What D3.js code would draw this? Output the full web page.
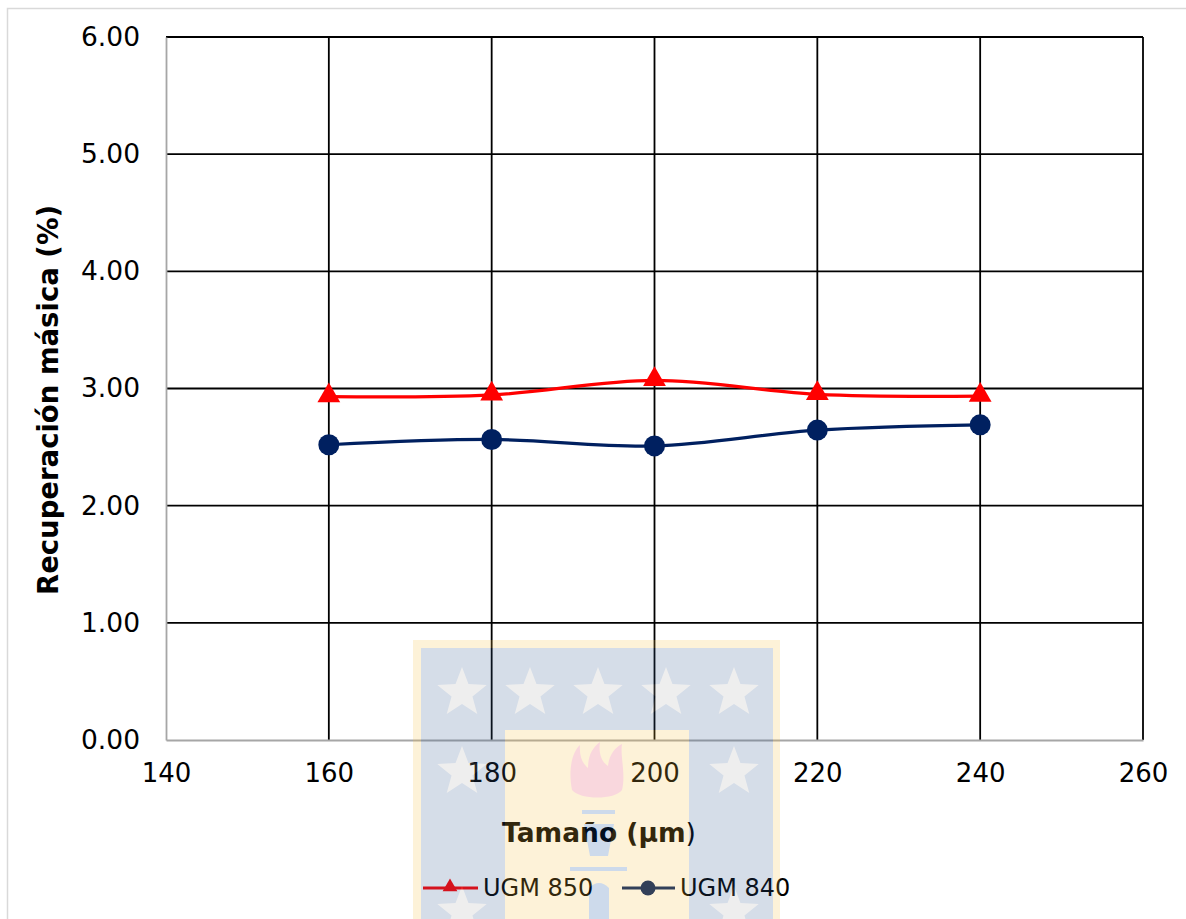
<!DOCTYPE html>
<html>
<head>
<meta charset="utf-8">
<script src="https://cdn.jsdelivr.net/npm/d3@7"></script>
<style>
  html, body { margin: 0; padding: 0; background: #fff; }
  svg { display: block; }
</style>
</head>
<body>
<svg id="chart" width="1186" height="919"></svg>
<script>
// ---- data ----
const sizes = [160, 180, 200, 220, 240];
const ugm850 = [2.93, 2.945, 3.07, 2.95, 2.935];
const ugm840 = [2.52, 2.565, 2.51, 2.645, 2.69];
const seriesNames = ["UGM 850", "UGM 840"];
const xTicks = [140, 160, 180, 200, 220, 240, 260];
const yTicks = [0, 1, 2, 3, 4, 5, 6];

const svg = d3.select("#chart");
const W = 1186, H = 919;
const m = { left: 166, right: 1143, top: 37, bottom: 740 };

const x = d3.scaleLinear().domain([140, 260]).range([m.left, m.right]);
const y = d3.scaleLinear().domain([0, 6]).range([m.bottom, m.top]);

// outer border
svg.append("rect").attr("x", 7.5).attr("y", 8.5).attr("width", W).attr("height", H)
  .attr("fill", "#fff").attr("stroke", "#d9d9d9").attr("stroke-width", 1.5);

const font = "'DejaVu Sans', Verdana, sans-serif";

// gridlines
const grid = svg.append("g");
grid.selectAll("line.h").data(yTicks.filter(d => d > 0)).join("line")
  .attr("x1", m.left).attr("x2", m.right)
  .attr("y1", d => y(d)).attr("y2", d => y(d))
  .attr("stroke", "#000").attr("stroke-width", 1.8);
grid.selectAll("line.v").data(xTicks.filter(d => d > 140)).join("line")
  .attr("y1", m.top).attr("y2", m.bottom)
  .attr("x1", d => x(d)).attr("x2", d => x(d))
  .attr("stroke", "#000").attr("stroke-width", 1.8);

// axes
const yAxis = d3.axisLeft(y).tickValues(yTicks).tickFormat(d3.format(".2f")).tickSize(0).tickPadding(26);
const xAxis = d3.axisBottom(x).tickValues(xTicks).tickFormat(d3.format("d")).tickSize(0).tickPadding(24);

const gy = svg.append("g").attr("transform", `translate(${m.left},0)`).call(yAxis);
gy.select(".domain").attr("stroke", "#a6a6a6").attr("stroke-width", 1.8);
gy.selectAll("text").attr("font-family", font).attr("font-size", 26.5).attr("fill", "#000");

const gx = svg.append("g").attr("transform", `translate(0,${m.bottom})`).call(xAxis);
gx.select(".domain").attr("stroke", "#a6a6a6").attr("stroke-width", 1.8);
gx.selectAll("text").attr("font-family", font).attr("font-size", 26).attr("fill", "#000");

// axis titles
svg.append("text")
  .attr("transform", "translate(58,400) rotate(-90)")
  .attr("text-anchor", "middle")
  .attr("font-family", font).attr("font-size", 27.5).attr("font-weight", "bold")
  .text("Recuperación másica (%)");

const xt = svg.append("text")
  .attr("x", 599).attr("y", 842)
  .attr("text-anchor", "middle")
  .attr("font-family", font).attr("font-size", 26.5).attr("font-weight", "bold");
xt.append("tspan").text("Tamaño (");
xt.append("tspan").text("μm");
xt.append("tspan").attr("font-weight", "normal").text(")");

// series
const line = d3.line().x((d, i) => x(sizes[i])).y(d => y(d)).curve(d3.curveCardinal.tension(0));
const red = "#ff0000", navy = "#002060";

svg.append("path").datum(ugm850).attr("d", line)
  .attr("fill", "none").attr("stroke", red).attr("stroke-width", 3.2);
svg.append("path").datum(ugm840).attr("d", line)
  .attr("fill", "none").attr("stroke", navy).attr("stroke-width", 3.2);

const tri = d3.symbol().type(d3.symbolTriangle);
svg.selectAll("path.t").data(ugm850).join("path")
  .attr("d", tri.size(225)())
  .attr("transform", (d, i) => `translate(${x(sizes[i])},${y(d) - 1})`)
  .attr("fill", red);
svg.selectAll("circle.c").data(ugm840).join("circle")
  .attr("cx", (d, i) => x(sizes[i])).attr("cy", d => y(d)).attr("r", 10.5)
  .attr("fill", navy);

// legend
const lg = svg.append("g");
lg.append("line").attr("x1", 423).attr("x2", 478).attr("y1", 888).attr("y2", 888)
  .attr("stroke", red).attr("stroke-width", 3.2);
lg.append("path").attr("d", d3.symbol().type(d3.symbolTriangle).size(95)())
  .attr("transform", "translate(450,887)").attr("fill", red);
lg.append("text").attr("x", 483).attr("y", 896)
  .attr("font-family", font).attr("font-size", 24).text(seriesNames[0]);
lg.append("line").attr("x1", 622).attr("x2", 675).attr("y1", 888).attr("y2", 888)
  .attr("stroke", navy).attr("stroke-width", 3.2);
lg.append("circle").attr("cx", 648).attr("cy", 888).attr("r", 7.5).attr("fill", navy);
lg.append("text").attr("x", 680).attr("y", 896)
  .attr("font-family", font).attr("font-size", 24).text(seriesNames[1]);

// ---- watermark overlay (decorative) ----
function starPath(cx, cy, R, r) {
  const pts = [];
  for (let k = 0; k < 10; k++) {
    const a = -Math.PI / 2 + k * Math.PI / 5;
    const rr = k % 2 === 0 ? R : r;
    pts.push([cx + rr * Math.cos(a), cy + rr * Math.sin(a)]);
  }
  return "M" + pts.map(p => p.join(",")).join("L") + "Z";
}
const wm = svg.append("g").attr("opacity", 0.2).style("pointer-events", "none");
wm.append("rect").attr("x", 413).attr("y", 640).attr("width", 367).attr("height", 300).attr("fill", "rgb(250,194,65)");
wm.append("rect").attr("x", 421).attr("y", 648).attr("width", 352).attr("height", 300).attr("fill", "rgb(50,90,145)");
[[462,693],[530,693],[598,693],[666,693],[734,693],[462,772],[734,772],[462,912],[734,912]].forEach(([cx, cy]) => {
  wm.append("path").attr("d", starPath(cx, cy, 26, 11)).attr("fill", "rgb(175,175,175)");
});
wm.append("rect").attr("x", 505).attr("y", 730).attr("width", 184).attr("height", 220).attr("fill", "rgb(250,194,65)");
// flame
wm.append("path").attr("d",
  "M572,790 C568,770 572,752 580,745 C579,757 583,764 588,768 C588,756 592,748 600,742 C598,755 603,763 608,766 C609,756 614,748 622,744 C620,756 626,774 622,790 C615,800 580,800 572,790 Z")
  .attr("fill", "rgb(230,60,90)");
// torch
const tc = "rgb(10,75,160)";
wm.append("rect").attr("x", 582).attr("y", 810).attr("width", 33).attr("height", 4).attr("fill", tc);
wm.append("path").attr("d", "M584,824 L614,824 L608,856 L590,856 Z").attr("fill", tc);
wm.append("rect").attr("x", 570).attr("y", 867).attr("width", 57).attr("height", 4).attr("fill", tc);
wm.append("path").attr("d", "M589,919 L589,888 Q599,878 609,888 L609,919 Z").attr("fill", tc);
</script>
</body>
</html>
